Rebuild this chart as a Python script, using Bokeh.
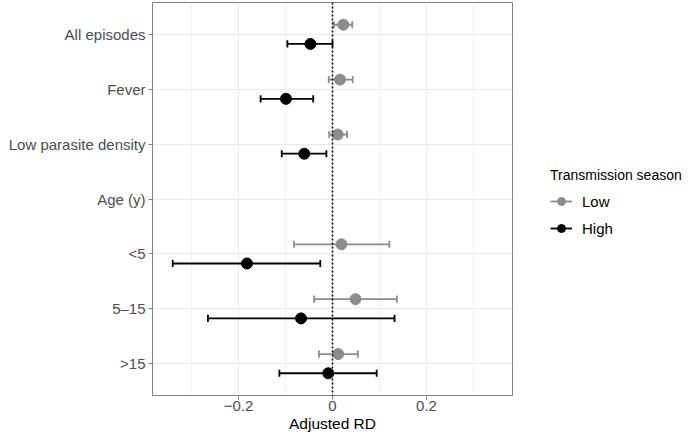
from bokeh.plotting import figure
from bokeh.models import Range1d, FixedTicker, Span, Legend, LegendItem, ColumnDataSource
from bokeh.embed import file_html
from bokeh.resources import INLINE

categories = ["All episodes", "Fever", "Low parasite density", "Age (y)", "<5", "5\u201315", ">15"]
low_est = [0.023, 0.016, 0.011, None, 0.019, 0.049, 0.012]
low_lo = [0.003, -0.008, -0.007, None, -0.082, -0.039, -0.029]
low_hi = [0.042, 0.043, 0.031, None, 0.121, 0.137, 0.054]
high_est = [-0.047, -0.099, -0.060, None, -0.182, -0.067, -0.009]
high_lo = [-0.096, -0.153, -0.108, None, -0.340, -0.265, -0.113]
high_hi = [0.000, -0.041, -0.013, None, -0.026, 0.132, 0.094]
x_ticks = [-0.2, 0.0, 0.2]
x_minor = [-0.3, -0.1, 0.1, 0.3]

n = len(categories)
FONT = "Liberation Sans"
DODGE = 0.175
CAP = 0.065

p = figure(frame_width=360, frame_height=393, output_backend="svg", toolbar_location=None,
           x_range=Range1d(-0.383, 0.383), y_range=Range1d(0.42, 7.58),
           min_border_left=152, min_border_right=0, min_border_top=2, min_border_bottom=0)

p.background_fill_color = "white"
p.outline_line_color = "#808080"
p.outline_line_width = 1

p.xaxis.ticker = FixedTicker(ticks=x_ticks, minor_ticks=x_minor)
p.yaxis.ticker = FixedTicker(ticks=list(range(1, n + 1)), minor_ticks=[])
p.yaxis.major_label_overrides = {n - i: c for i, c in enumerate(categories)}
for ax in (p.xaxis[0], p.yaxis[0]):
    ax.axis_line_color = None
    ax.major_tick_line_color = "#808080"
    ax.major_tick_out = 4
    ax.major_tick_in = 0
    ax.minor_tick_line_color = None
    ax.major_label_text_font = FONT
    ax.major_label_text_font_size = "15px"
    ax.major_label_text_color = "#4d4d4d"
    ax.major_label_standoff = 3
p.xaxis.axis_label = "Adjusted RD"
p.xaxis.axis_label_text_font = FONT
p.xaxis.axis_label_text_font_size = "15.5px"
p.xaxis.axis_label_text_font_style = "normal"
p.xaxis.axis_label_text_color = "black"
p.xaxis.axis_label_standoff = 1
p.xaxis.major_label_standoff = 1

p.xgrid.grid_line_color = "#ebebeb"
p.xgrid.minor_grid_line_color = "#ebebeb"
p.xgrid.minor_grid_line_width = 0.7
p.ygrid.grid_line_color = "#ebebeb"


def series(est, lo, hi, offset, color):
    ys, es, ls, hs = [], [], [], []
    for i in range(n):
        if est[i] is None:
            continue
        ys.append(n - i + offset)
        es.append(est[i])
        ls.append(lo[i])
        hs.append(hi[i])
    src = ColumnDataSource(dict(y=ys, est=es, lo=ls, hi=hs,
                                yb=[v - CAP for v in ys], yt=[v + CAP for v in ys]))
    seg = p.segment(x0="lo", x1="hi", y0="y", y1="y", source=src, line_color=color, line_width=1.8)
    p.segment(x0="lo", x1="lo", y0="yb", y1="yt", source=src, line_color=color, line_width=1.8)
    p.segment(x0="hi", x1="hi", y0="yb", y1="yt", source=src, line_color=color, line_width=1.8)
    sc = p.scatter(x="est", y="y", source=src, size=11, fill_color=color, line_color=color)
    return seg, sc


low_r = series(low_est, low_lo, low_hi, DODGE, "#8c8c8c")
high_r = series(high_est, high_lo, high_hi, -DODGE, "black")

p.add_layout(Span(location=0, dimension="height", line_color="black",
                  line_dash="2 2", line_width=1.5))

legend = Legend(items=[LegendItem(label="Low", renderers=list(low_r)),
                       LegendItem(label="High", renderers=list(high_r))],
                location=(38, 157), title="Transmission season",
                title_text_font=FONT, title_text_font_size="14px", title_text_color="black",
                title_text_font_style="normal", title_standoff=8,
                label_text_font=FONT, label_text_font_size="15px", label_text_color="black",
                glyph_width=22, glyph_height=20, label_height=20, spacing=7,
                label_standoff=10, padding=0, margin=0,
                border_line_color=None, background_fill_alpha=0)
p.add_layout(legend, "right")

open("out.html", "w").write(file_html(p, INLINE))
